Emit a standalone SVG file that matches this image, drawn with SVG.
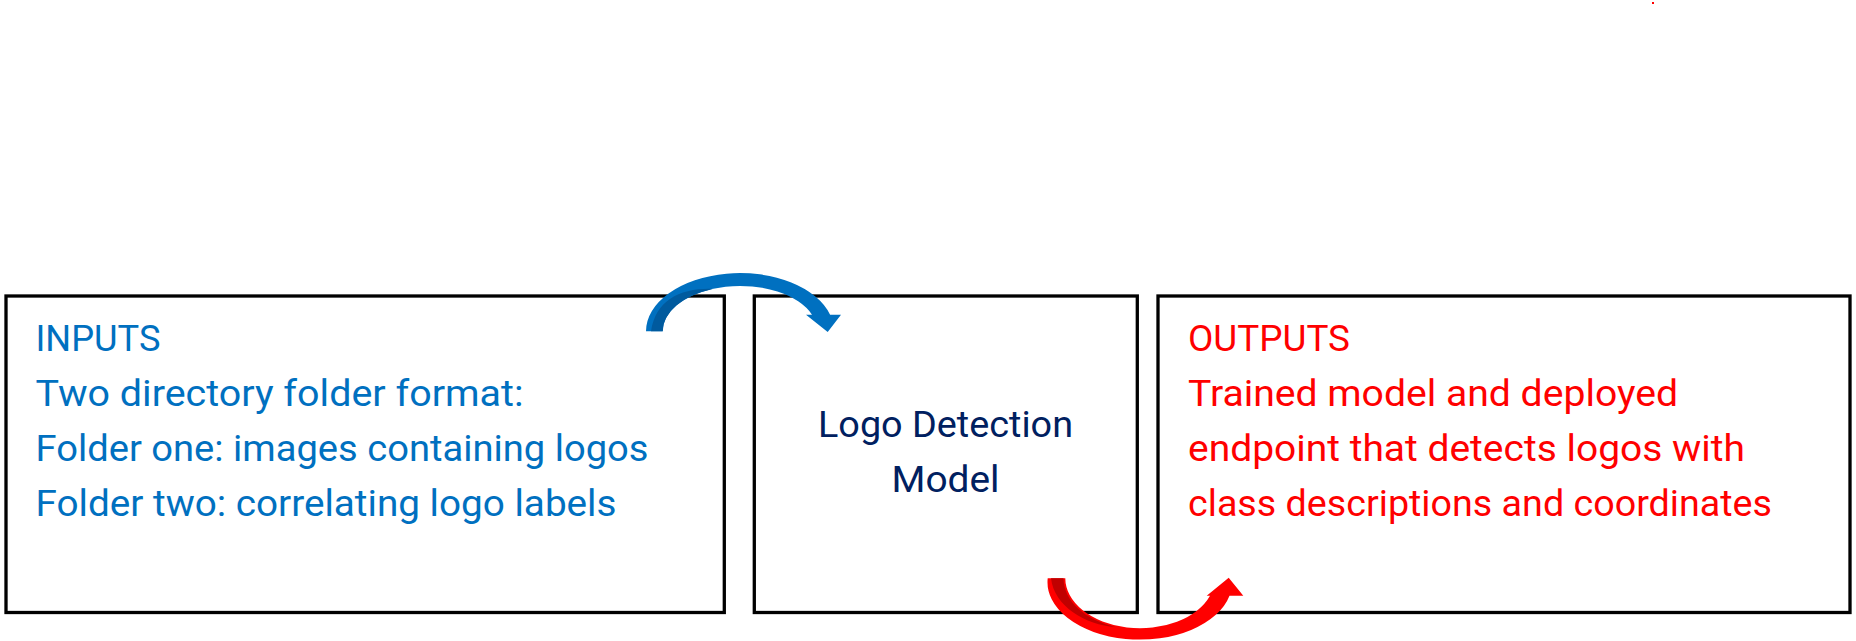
<svg xmlns="http://www.w3.org/2000/svg" width="1856" height="641" viewBox="0 0 1856 641">
<style>
.box{fill:#fff;stroke:#000;stroke-width:3.3}
.t{font-family:Roboto,"Open Sans","Liberation Sans",sans-serif;font-size:37px}
.blue{fill:#0070C0}
.red{fill:#FF0000}
.navy{fill:#002060}
</style>
<rect width="1856" height="641" fill="#fff"/>
<rect x="1652" y="2" width="2" height="2" fill="#FF0000"/>
<g id="inputs">
<rect class="box" x="6" y="296" width="718.3" height="316.5"/>
<text class="t blue" x="35.5" y="351" textLength="125" lengthAdjust="spacingAndGlyphs">INPUTS</text>
<text class="t blue" x="35.5" y="406" textLength="488" lengthAdjust="spacingAndGlyphs">Two directory folder format:</text>
<text class="t blue" x="35.5" y="461" textLength="613" lengthAdjust="spacingAndGlyphs">Folder one: images containing logos</text>
<text class="t blue" x="35.5" y="516" textLength="581" lengthAdjust="spacingAndGlyphs">Folder two: correlating logo labels</text>
</g>
<g id="model">
<rect class="box" x="754.3" y="296" width="383" height="316.5"/>
<text class="t navy" x="945.5" y="437" text-anchor="middle" textLength="255" lengthAdjust="spacingAndGlyphs">Logo Detection</text>
<text class="t navy" x="945.5" y="492" text-anchor="middle" textLength="108" lengthAdjust="spacingAndGlyphs">Model</text>
</g>
<g id="outputs">
<rect class="box" x="1158" y="296" width="692" height="316.5"/>
<text class="t red" x="1188" y="351" textLength="162" lengthAdjust="spacingAndGlyphs">OUTPUTS</text>
<text class="t red" x="1188" y="406" textLength="490" lengthAdjust="spacingAndGlyphs">Trained model and deployed</text>
<text class="t red" x="1188" y="461" textLength="557" lengthAdjust="spacingAndGlyphs">endpoint that detects logos with</text>
<text class="t red" x="1188" y="516" textLength="584" lengthAdjust="spacingAndGlyphs">class descriptions and coordinates</text>
</g>
<g id="connectors">
<path d="M646,331.3 A94,58.3 0 0 1 830.1,314.7 L841,314.7 L827.7,332 L806,314.7 L812,314.7 A77.3,45.3 0 0 0 662.7,331.3 Z" fill="#0070C0"/>
<path d="M651,331.3 L662.7,331.3 A77.3,45.3 0 0 1 712.7,288.9 C680,288 656,300 651,331.3 Z" fill="#005A9E"/>
<path d="M1047.7,578.3 A92.3,57.4 0 0 0 1229.5,595.7 L1243.3,595.7 L1228.7,577.7 L1206.7,595.7 L1210,595.7 A74.7,50 0 0 1 1065.3,578.3 Z" fill="#FF0000"/>
<path d="M1051,578.3 L1063.5,578.3 A76.5,51.5 0 0 0 1116,627.2 C1085,625 1054,606 1051,578.3 Z" fill="#C00000"/>
</g>
</svg>
